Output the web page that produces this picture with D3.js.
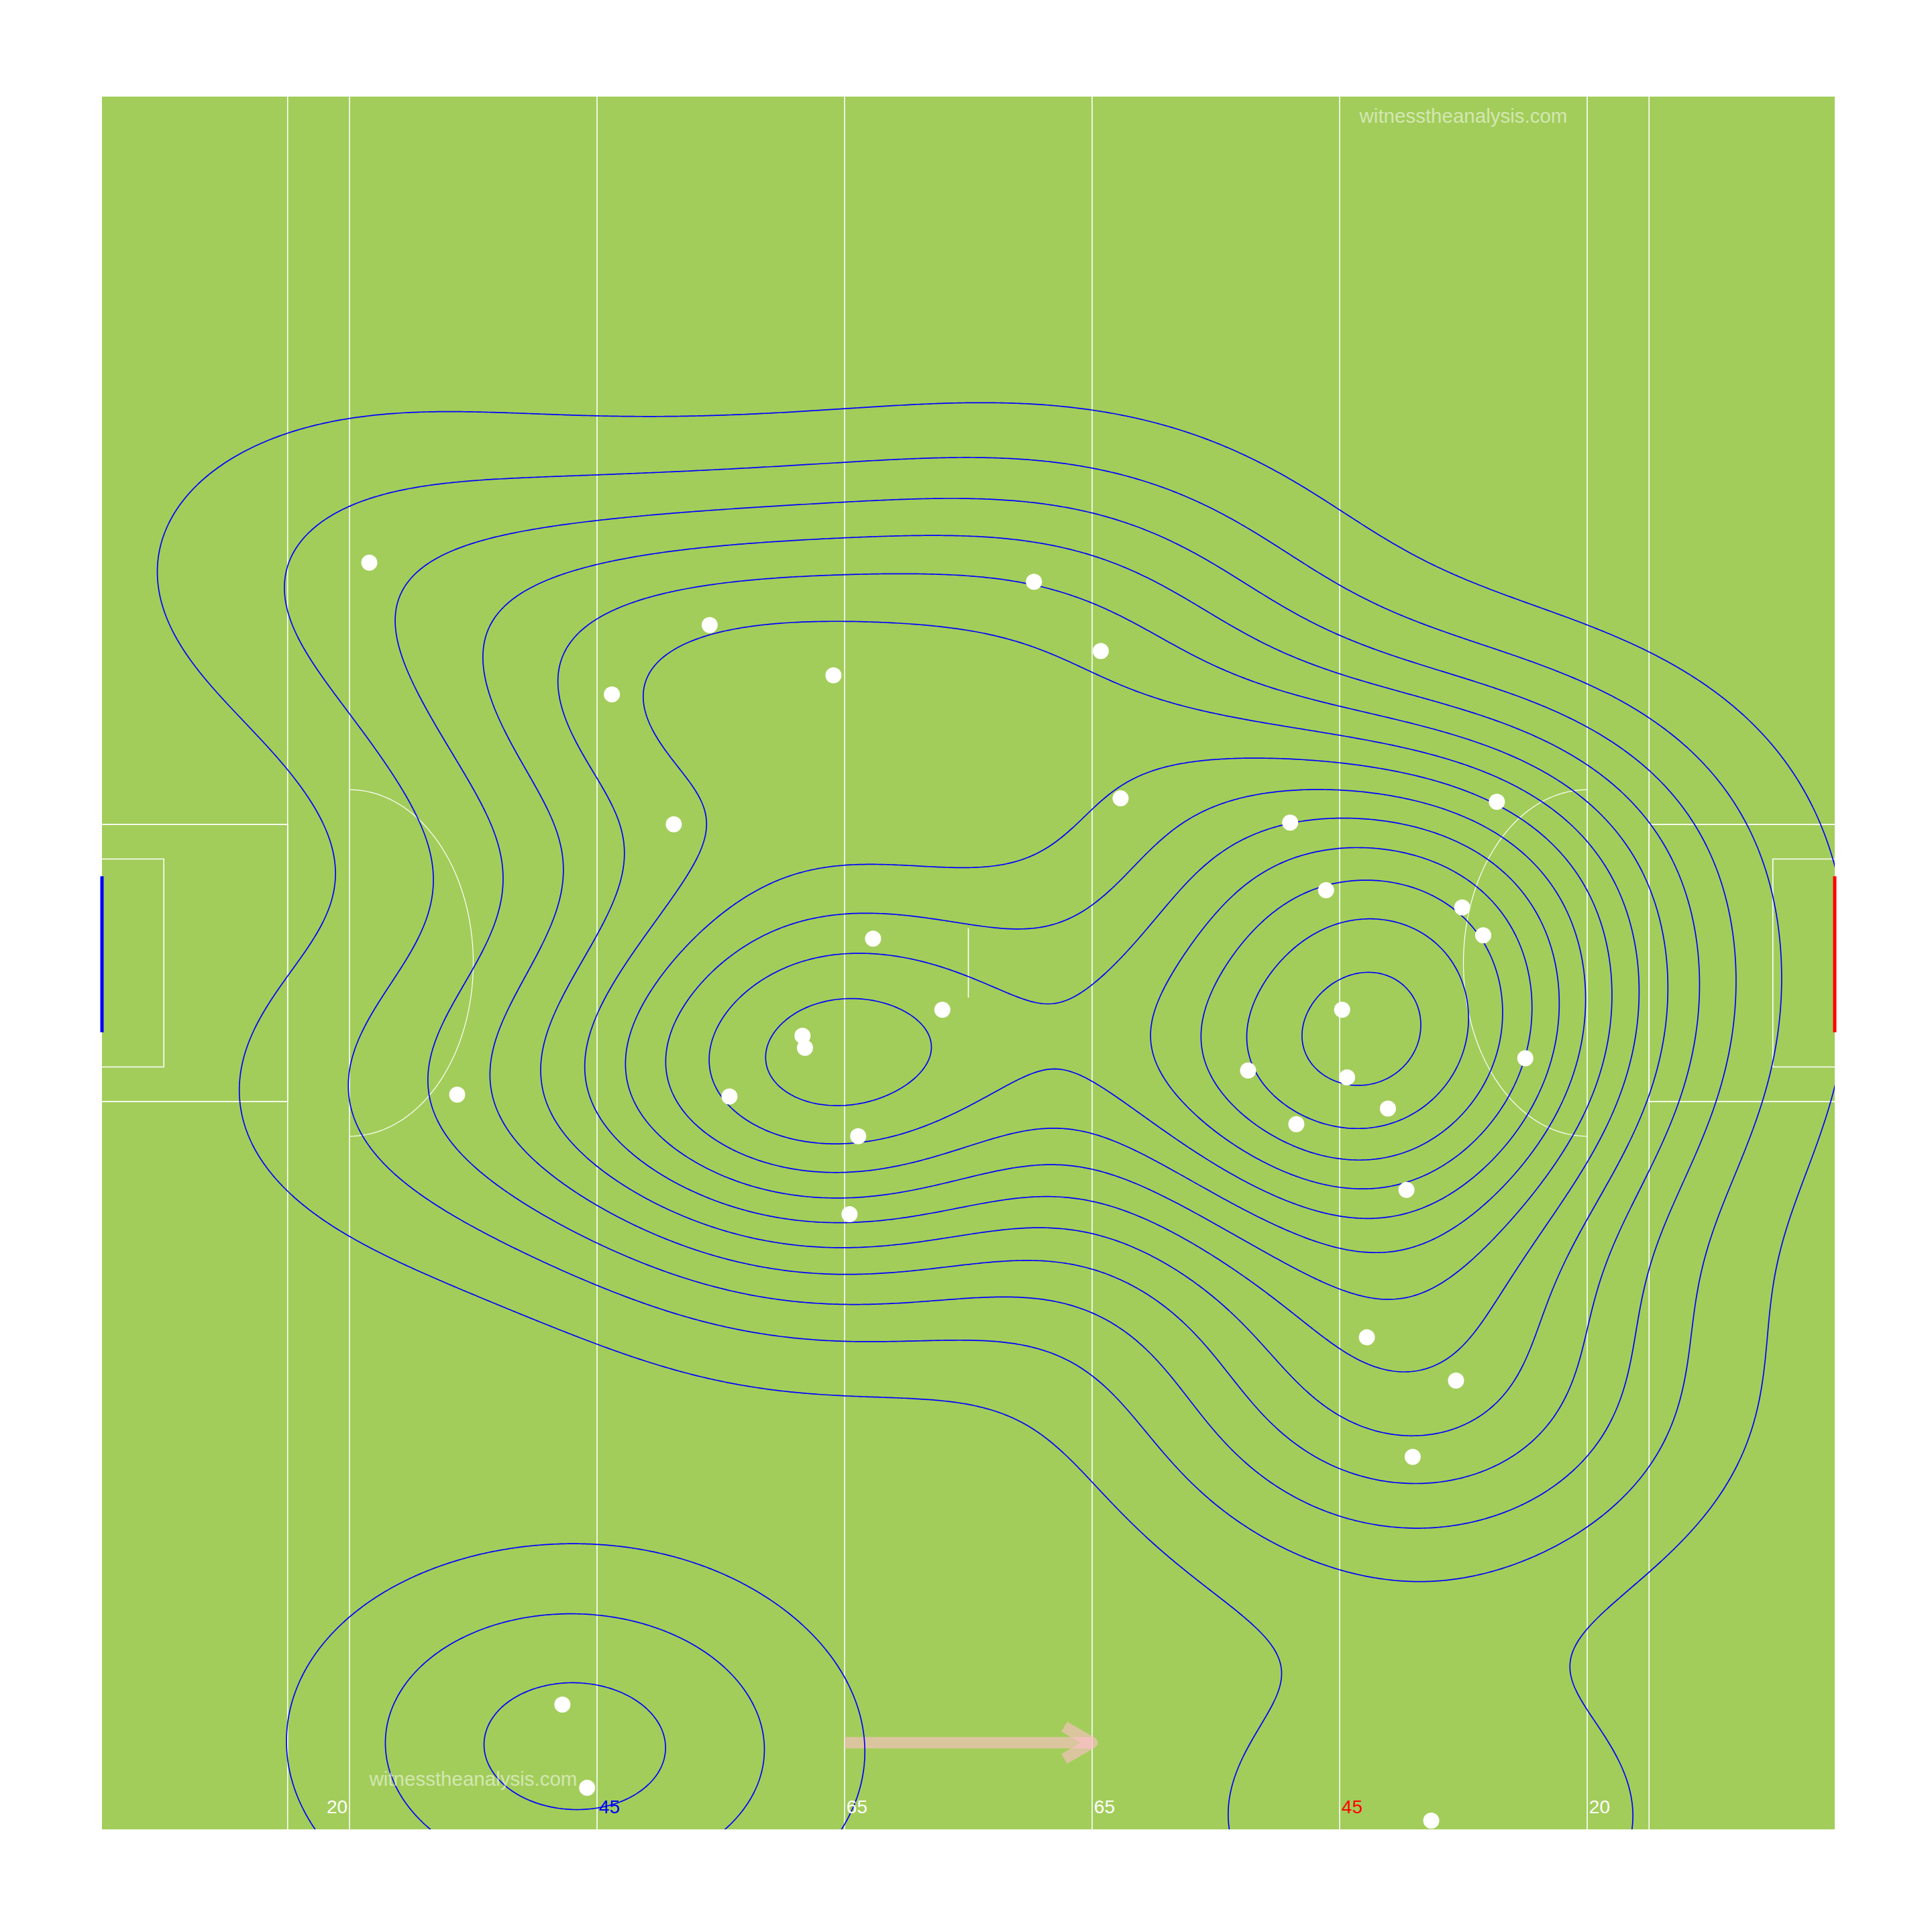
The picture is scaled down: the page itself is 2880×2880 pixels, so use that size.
<!DOCTYPE html>
<html>
<head>
<meta charset="utf-8">
<title>Shot density</title>
<script src="https://d3js.org/d3.v7.min.js"></script>
<style>
body { margin: 0; background: #ffffff; }
text { font-family: "Liberation Sans", Arial, sans-serif; }
</style>
</head>
<body>
<script>
// event locations in pitch units (x 0-140 along the pitch, y 0-100 across, from the top)
var shotX = [21.6, 49.1, 75.3, 80.7, 59.1, 41.2, 46.2, 82.3, 96.0, 112.7,
             98.9, 109.9, 111.6, 62.3, 67.9, 100.2, 56.6, 56.8, 115.0, 92.6,
             100.6, 28.7, 50.7, 103.9, 96.5, 61.1, 105.4, 60.4, 102.2, 109.4,
             105.9, 37.2, 39.2, 107.4];
var shotY = [26.9, 30.5, 28.0, 32.0, 33.4, 34.5, 42.0, 40.5, 41.9, 40.7,
             45.8, 46.8, 48.4, 48.6, 52.7, 52.7, 54.2, 54.9, 55.5, 56.2,
             56.6, 57.6, 57.7, 58.4, 59.3, 60.0, 63.1, 64.5, 71.6, 74.1,
             78.5, 92.8, 97.6, 99.5];

// pitch markings
var lineX = [15, 20, 40, 60, 80, 100, 120, 125];
var distLabels = ["20", "45", "65", "65", "45", "20"];
var labelX = [19, 41, 61, 81, 101, 121];

// direction of play
var arrowFrom = [60, 95];
var arrowTo = [80, 95];

var labelColours = ["white", "blue", "white", "white", "red", "white"];

var W = 2880, H = 2880;
var svg = d3.select("body").append("svg")
    .attr("width", W)
    .attr("height", H);

var x = d3.scaleLinear().domain([0, 140]).range([152, 2735]);
var y = d3.scaleLinear().domain([0, 100]).range([144, 2727]);

svg.append("defs").append("clipPath").attr("id", "pitchClip")
  .append("rect")
    .attr("x", x(0)).attr("y", y(0))
    .attr("width", x(140) - x(0)).attr("height", y(100) - y(0));

// grass
svg.append("rect")
    .attr("x", x(0)).attr("y", y(0))
    .attr("width", x(140) - x(0)).attr("height", y(100) - y(0))
    .attr("fill", "#A2CD5A");

// lines
var pitch = svg.append("g")
    .attr("stroke", "white")
    .attr("stroke-width", 1.6)
    .attr("fill", "none");

pitch.selectAll("line.cross")
  .data(lineX)
  .enter()
  .append("line")
    .attr("x1", function(d){ return x(d); })
    .attr("x2", function(d){ return x(d); })
    .attr("y1", y(0))
    .attr("y2", y(100));

function box(x0, x1, y0, y1) {
  return "M" + x(x0) + "," + y(y0) + "H" + x(x1) + "V" + y(y1) + "H" + x(x0);
}
pitch.append("path").attr("d", box(0, 15, 42, 58));
pitch.append("path").attr("d", box(0, 5, 44, 56));
pitch.append("path").attr("d", box(140, 125, 42, 58));
pitch.append("path").attr("d", box(140, 135, 44, 56));

var arcLine = d3.line()
    .x(function(d){ return x(d[0]); })
    .y(function(d){ return y(d[1]); });
var angles = d3.range(-90, 91, 2);
pitch.append("path")
    .attr("stroke-width", 1.2)
    .attr("d", arcLine(angles.map(function(a){
      var t = a * Math.PI / 180;
      return [20 + 10 * Math.cos(t), 50 + 10 * Math.sin(t)];
    })));
pitch.append("path")
    .attr("stroke-width", 1.2)
    .attr("d", arcLine(angles.map(function(a){
      var t = a * Math.PI / 180;
      return [120 - 10 * Math.cos(t), 50 + 10 * Math.sin(t)];
    })));
pitch.append("line")
    .attr("x1", x(70)).attr("x2", x(70))
    .attr("y1", y(48)).attr("y2", y(52));

// goals
svg.append("line")
    .attr("x1", x(0)).attr("x2", x(0))
    .attr("y1", y(45)).attr("y2", y(54))
    .attr("stroke", "blue").attr("stroke-width", 5);
svg.append("line")
    .attr("x1", x(140)).attr("x2", x(140))
    .attr("y1", y(45)).attr("y2", y(54))
    .attr("stroke", "red").attr("stroke-width", 5);

// arrow: shaft and head drawn separately, semi transparent
var ax0 = x(arrowFrom[0]), ay0 = y(arrowFrom[1]);
var ax1 = x(arrowTo[0]), ay1 = y(arrowTo[1]);
var ang = Math.atan2(ay1 - ay0, ax1 - ax0);
var headLen = 48, headAng = Math.PI / 6;
var arrow = svg.append("g")
    .attr("stroke", "pink")
    .attr("stroke-opacity", 0.6)
    .attr("stroke-width", 17)
    .attr("fill", "none");
arrow.append("line")
    .attr("x1", ax0).attr("y1", ay0)
    .attr("x2", ax1).attr("y2", ay1);
arrow.append("path")
    .attr("stroke-linejoin", "round")
    .attr("d", "M" + (ax1 - headLen * Math.cos(ang - headAng)) + "," + (ay1 - headLen * Math.sin(ang - headAng)) +
               "L" + ax1 + "," + ay1 +
               "L" + (ax1 - headLen * Math.cos(ang + headAng)) + "," + (ay1 - headLen * Math.sin(ang + headAng)));

// 2d kernel density, same recipe as MASS::kde2d with bandwidth.nrd
function bandwidthNrd(v) {
  var s = v.slice().sort(d3.ascending);
  var iqr = (d3.quantileSorted(s, 0.75) - d3.quantileSorted(s, 0.25)) / 1.34;
  return 4 * 1.06 * Math.min(d3.deviation(v), iqr) * Math.pow(v.length, -0.2);
}
function dnorm(z) { return Math.exp(-0.5 * z * z) / Math.sqrt(2 * Math.PI); }

var hx = bandwidthNrd(shotX) / 4, hy = bandwidthNrd(shotY) / 4;
var n = shotX.length;
var cell = 4, pad = 640;
var gx0 = x(0) - pad, gy0 = y(0) - pad;
var nx = Math.ceil((x(140) - x(0) + 2 * pad) / cell) + 1;
var ny = Math.ceil((y(100) - y(0) + 2 * pad) / cell) + 1;

var kx = shotX.map(function(xi){
  var a = new Float64Array(nx);
  for (var i = 0; i < nx; i++) a[i] = dnorm((x.invert(gx0 + i * cell) - xi) / hx) / hx;
  return a;
});
var ky = shotY.map(function(yi){
  var a = new Float64Array(ny);
  for (var j = 0; j < ny; j++) a[j] = dnorm((y.invert(gy0 + j * cell) - yi) / hy) / hy;
  return a;
});
var dens = new Float64Array(nx * ny);
for (var k = 0; k < n; k++) {
  var ax = kx[k], ay = ky[k];
  for (var j = 0; j < ny; j++) {
    var v = ay[j] / n, row = j * nx;
    if (v < 1e-12) continue;
    for (var i = 0; i < nx; i++) dens[row + i] += ax[i] * v;
  }
}

// range inside the pitch only, as the density is evaluated there
var zmin = Infinity, zmax = -Infinity;
for (var j = 0; j < ny; j++) {
  var py = gy0 + j * cell;
  if (py < y(0) || py > y(100)) continue;
  for (var i = 0; i < nx; i++) {
    var px = gx0 + i * cell;
    if (px < x(0) || px > x(140)) continue;
    var z = dens[j * nx + i];
    if (z < zmin) zmin = z;
    if (z > zmax) zmax = z;
  }
}

// R pretty() step for 10 intervals
function prettyStep(lo, up, nd) {
  var c = (up - lo) / nd;
  var U = Math.pow(10, Math.floor(Math.log10(c)));
  var unit = U;
  if (2 * U - c < 1.5 * (c - unit)) {
    unit = 2 * U;
    if (5 * U - c < 2.75 * (c - unit)) {
      unit = 5 * U;
      if (10 * U - c < 1.5 * (c - unit)) unit = 10 * U;
    }
  }
  return unit;
}
// the original uses levels twice as dense as the pretty step
var step = prettyStep(zmin, zmax, 10) / 2;
var thresholds = d3.range(step, zmax, step);

var contours = d3.contours()
    .size([nx, ny])
    .thresholds(thresholds)(dens);

var toPage = d3.geoTransform({
  point: function(px, py) {
    this.stream.point(gx0 + (px - 0.5) * cell, gy0 + (py - 0.5) * cell);
  }
});

svg.append("g")
    .attr("clip-path", "url(#pitchClip)")
  .selectAll("path")
  .data(contours)
  .enter()
  .append("path")
    .attr("d", d3.geoPath(toPage))
    .attr("fill", "none")
    .attr("stroke", "blue")
    .attr("stroke-width", 1.7);

// shots
svg.append("g")
  .selectAll("circle")
  .data(shotX)
  .enter()
  .append("circle")
    .attr("cx", function(d, i){ return x(shotX[i]); })
    .attr("cy", function(d, i){ return y(shotY[i]); })
    .attr("r", 12)
    .attr("fill", "white");

// distance labels
svg.append("g")
  .selectAll("text")
  .data(distLabels)
  .enter()
  .append("text")
    .attr("x", function(d, i){ return x(labelX[i]); })
    .attr("y", y(98.7))
    .attr("dy", "0.35em")
    .attr("text-anchor", "middle")
    .attr("font-size", 28)
    .attr("fill", function(d, i){ return labelColours[i]; })
    .text(function(d){ return d; });

// watermarks
[[110, 1.1], [30, 97.1]].forEach(function(p){
  svg.append("text")
      .attr("x", x(p[0]))
      .attr("y", y(p[1]))
      .attr("dy", "0.35em")
      .attr("text-anchor", "middle")
      .attr("font-size", 29.5)
      .attr("fill", "white")
      .attr("fill-opacity", 0.55)
      .text("witnesstheanalysis.com");
});
</script>
</body>
</html>
